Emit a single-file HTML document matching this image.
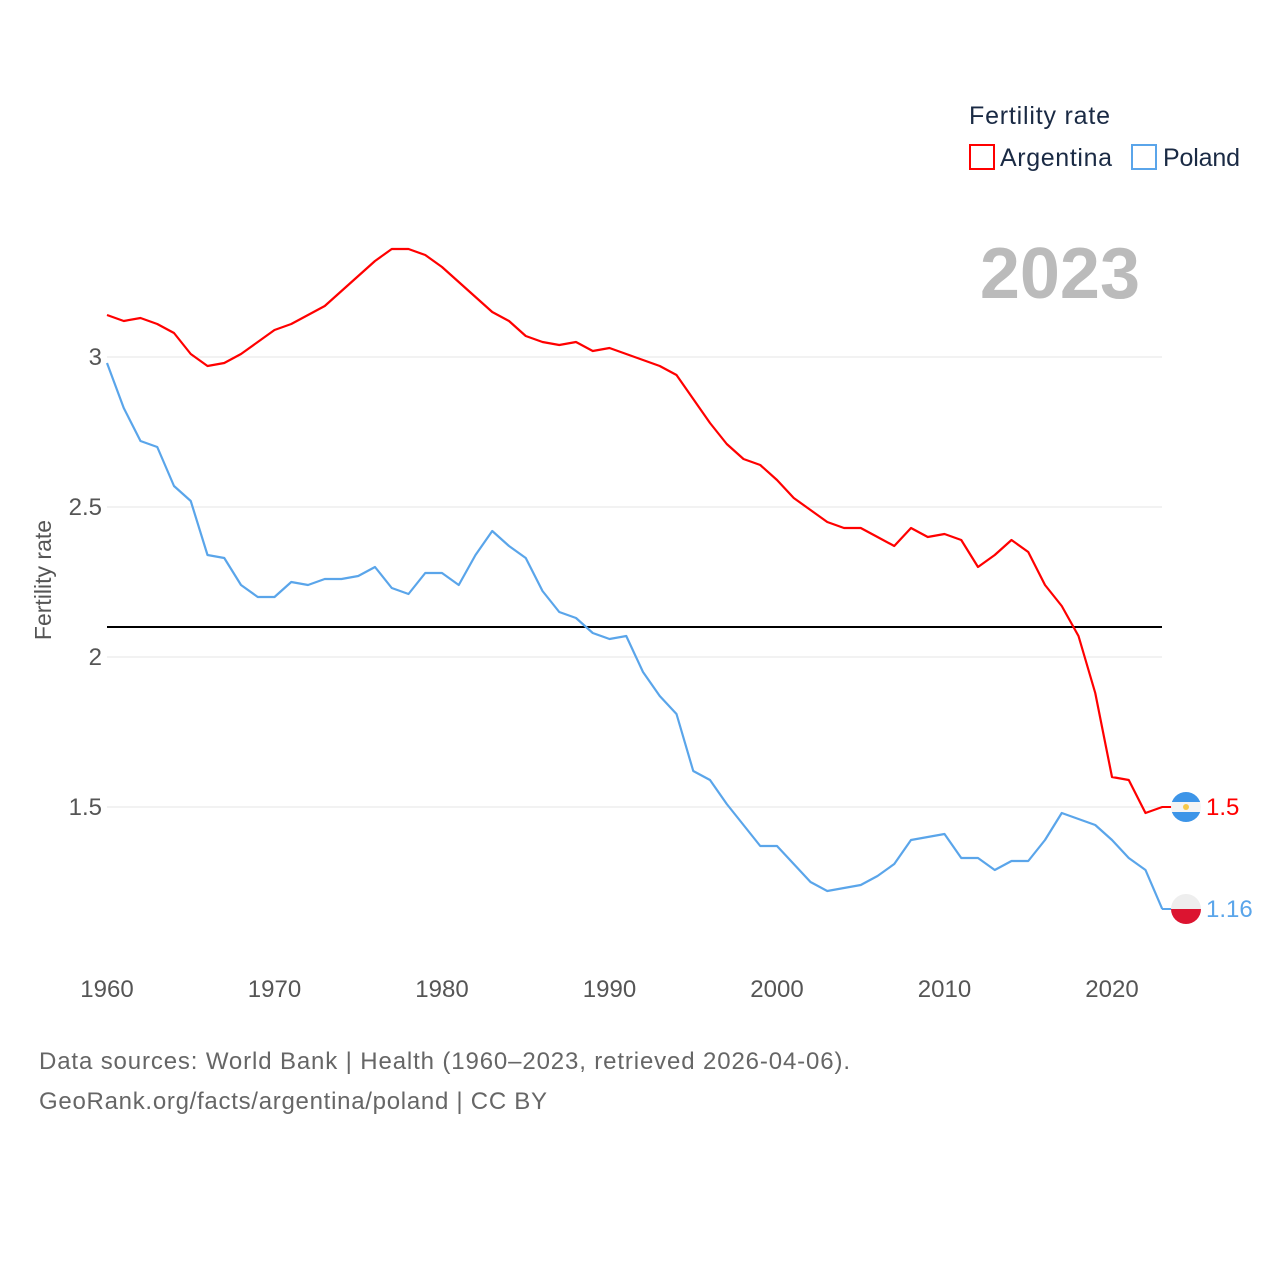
<!DOCTYPE html>
<html><head><meta charset="utf-8"><style>
body{margin:0;background:#fff;font-family:"Liberation Sans",sans-serif}
</style></head><body>
<svg width="1280" height="1280" xmlns="http://www.w3.org/2000/svg" id="chart" font-family="Liberation Sans, sans-serif">
<rect width="1280" height="1280" fill="#fff"/>
<g id="grid"></g><g id="xt"></g><g id="lines"></g>
<text x="969" y="124" font-size="25" fill="#1a2a44" textLength="141">Fertility rate</text>
<g><rect x="970" y="145" width="24" height="24" fill="none" stroke="#f00" stroke-width="2"/><text x="1000" y="166" font-size="25" fill="#1a2a44" textLength="112">Argentina</text></g>
<g><rect x="1132" y="145" width="24" height="24" fill="none" stroke="#5aa5ea" stroke-width="2"/><text x="1163" y="166" font-size="25" fill="#1a2a44" textLength="77">Poland</text></g>
<text x="1140" y="298" font-size="72" font-weight="bold" fill="#bbb" text-anchor="end">2023</text>
<text transform="translate(51,580) rotate(-90)" font-size="23" fill="#555" text-anchor="middle">Fertility rate</text>
<text x="39" y="1069" font-size="24" fill="#666" textLength="811">Data sources: World Bank | Health (1960–2023, retrieved 2026-04-06).</text>
<text x="39" y="1109" font-size="24" fill="#666" textLength="508">GeoRank.org/facts/argentina/poland | CC BY</text>
</svg>
<script>
const years=[];for(let y=1960;y<=2023;y++)years.push(y);
const argentina=[3.14,3.12,3.13,3.11,3.08,3.01,2.97,2.98,3.01,3.05,3.09,3.11,3.14,3.17,3.22,3.27,3.32,3.36,3.36,3.34,3.30,3.25,3.20,3.15,3.12,3.07,3.05,3.04,3.05,3.02,3.03,3.01,2.99,2.97,2.94,2.86,2.78,2.71,2.66,2.64,2.59,2.53,2.49,2.45,2.43,2.43,2.40,2.37,2.43,2.40,2.41,2.39,2.30,2.34,2.39,2.35,2.24,2.17,2.07,1.88,1.60,1.59,1.48,1.50];
const poland=[2.98,2.83,2.72,2.70,2.57,2.52,2.34,2.33,2.24,2.20,2.20,2.25,2.24,2.26,2.26,2.27,2.30,2.23,2.21,2.28,2.28,2.24,2.34,2.42,2.37,2.33,2.22,2.15,2.13,2.08,2.06,2.07,1.95,1.87,1.81,1.62,1.59,1.51,1.44,1.37,1.37,1.31,1.25,1.22,1.23,1.24,1.27,1.31,1.39,1.40,1.41,1.33,1.33,1.29,1.32,1.32,1.39,1.48,1.46,1.44,1.39,1.33,1.29,1.16];
const yTicks=[1.5,2,2.5,3];
const xTicks=[1960,1970,1980,1990,2000,2010,2020];
const replacement=2.1;
const X=y=>107+(y-1960)*16.75, Y=v=>657-(v-2)*300;
const NS="http://www.w3.org/2000/svg";
function mk(t,a,p){const e=document.createElementNS(NS,t);for(const k in a)e.setAttribute(k,a[k]);document.getElementById(p).appendChild(e);return e;}
yTicks.forEach(v=>{
 const l=mk('line',{x1:107,x2:1162,y1:Y(v),y2:Y(v),stroke:'#e6e6e6'},'grid');
 
 
 const t=mk('text',{x:102,y:Y(v)+8,'font-size':24,fill:'#555','text-anchor':'end'},'grid');t.textContent=v;
 
 
});
xTicks.forEach(v=>{
 const t=mk('text',{x:X(v),y:997,'font-size':24,fill:'#555','text-anchor':'middle'},'xt');t.textContent=v;
 
 
});
const r=mk('line',{x1:107,x2:1162,y1:Y(replacement),y2:Y(replacement),stroke:'#000','stroke-width':2},'lines');


function series(d,c,n){
 const p=mk('polyline',{points:d.map((v,i)=>X(years[i])+','+Y(v)).join(' '),fill:'none',stroke:c,'stroke-width':2.2,'stroke-linejoin':'round'},'lines');
 
 
 const last=d[d.length-1],ly=Y(last);
 mk('line',{x1:1162,x2:1172,y1:ly,y2:ly,stroke:c,'stroke-width':2},'lines');
 const t=mk('text',{x:1206,y:ly+8,'font-size':24,fill:c},'lines');t.textContent=last;
 
 
 return ly;
}
const ay=series(argentina,'#f00','argentina');
const py=series(poland,'#5aa5ea','poland');
const fa=mk('g',{},'lines');


fa.innerHTML=`<clipPath id="ca"><circle cx="1186" cy="${ay}" r="15"/></clipPath><g clip-path="url(#ca)"><rect x="1171" y="${ay-15}" width="30" height="30" fill="#f4f4f4"/><rect x="1171" y="${ay-15}" width="30" height="10" fill="#3d95e8"/><rect x="1171" y="${ay+5}" width="30" height="10" fill="#3d95e8"/><circle cx="1186" cy="${ay}" r="3" fill="#f6c94a"/></g>`;
const fp=mk('g',{},'lines');


fp.innerHTML=`<clipPath id="cp"><circle cx="1186" cy="${py}" r="15"/></clipPath><g clip-path="url(#cp)"><rect x="1171" y="${py-15}" width="30" height="15" fill="#eee"/><rect x="1171" y="${py}" width="30" height="15" fill="#dc1430"/></g>`;
</script>
</body></html>
